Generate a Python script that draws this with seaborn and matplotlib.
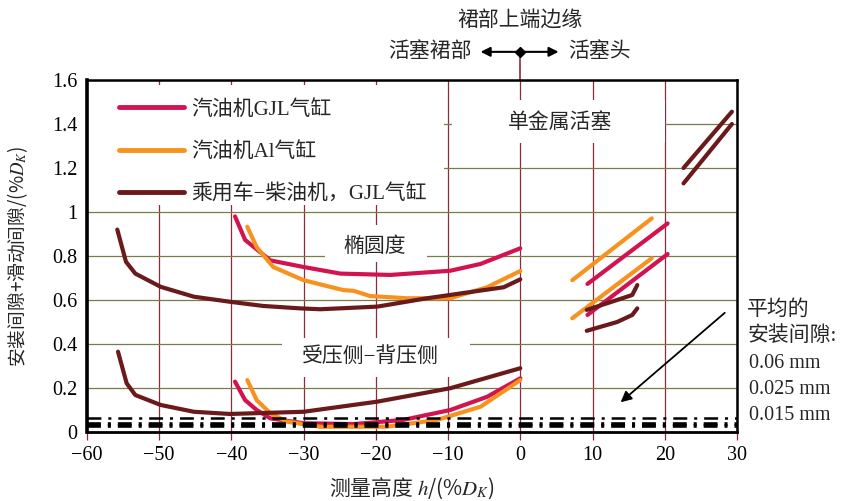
import matplotlib
matplotlib.use("Agg")
import matplotlib.pyplot as plt
from matplotlib.patches import Rectangle
import numpy as np
import pandas as pd
import seaborn as sns

sns.set_theme(style="white")
plt.rcParams["font.family"] = ["Liberation Serif", "Noto Sans CJK SC", "DejaVu Sans"]
plt.rcParams["mathtext.fontset"] = "stix"
plt.rcParams["axes.unicode_minus"] = True
plt.rcParams["lines.scale_dashes"] = False

# ---- data: clearance (% of piston diameter) vs. measuring height ----
series_names = ["汽油机GJL气缸", "汽油机Al气缸", "乘用车−柴油机，GJL气缸"]
series_colors = ["#d2134f", "#f7921e", "#6b1a1c"]

# gasoline engine, GJL cylinder
gjl_oval_h = [-39.5, -38.1, -34.6, -30, -24.9, -18, -9.7, -5.5, 0]
gjl_oval_v = [0.98, 0.873, 0.78, 0.75, 0.72, 0.714, 0.733, 0.764, 0.835]
gjl_thrust_h = [-39.5, -38.1, -36.5, -34.6, -30, -23.1, -16.2, -9.7, -4.6, 0]
gjl_thrust_v = [0.229, 0.145, 0.10, 0.062, 0.04, 0.036, 0.055, 0.10, 0.16, 0.244]
gjl_head_oval_h = [9.3, 20.4]
gjl_head_oval_v = [0.673, 0.948]
gjl_head_thrust_h = [9.3, 20.4]
gjl_head_thrust_v = [0.532, 0.809]

# gasoline engine, Al cylinder
al_oval_h = [-37.8, -36.5, -34.2, -30, -24.5, -23.1, -20.8, -15.7, -9.7, -4.6, 0]
al_oval_v = [0.933, 0.84, 0.75, 0.69, 0.645, 0.642, 0.618, 0.608, 0.608, 0.658, 0.732]
al_thrust_h = [-37.8, -36.5, -34.6, -32.3, -27.7, -18.5, -11.5, -5.5, 0]
al_thrust_v = [0.236, 0.145, 0.085, 0.047, 0.024, 0.024, 0.055, 0.115, 0.236]
al_head_oval_h = [7.2, 18.2]
al_head_oval_v = [0.69, 0.971]
al_head_thrust_h = [7.2, 18.2]
al_head_thrust_v = [0.517, 0.79]

# passenger-car diesel, GJL cylinder
dsl_oval_h = [-55.8, -54.6, -53.3, -49.8, -45.2, -40.2, -35.6, -30.5, -27.7, -19.8, -12.9, -2.3, 0]
dsl_oval_v = [0.92, 0.774, 0.72, 0.66, 0.615, 0.592, 0.573, 0.562, 0.558, 0.57, 0.608, 0.658, 0.694]
dsl_thrust_h = [-55.7, -54.5, -53.3, -49.8, -45.2, -40.2, -30, -19.8, -9.7, 0]
dsl_thrust_v = [0.365, 0.221, 0.168, 0.123, 0.092, 0.082, 0.092, 0.138, 0.199, 0.29]
dsl_head_oval_h = [9.2, 13.4, 15.5, 16.2]
dsl_head_oval_v = [0.555, 0.6, 0.623, 0.668]
dsl_head_thrust_h = [9.2, 13.4, 15.5, 16.2]
dsl_head_thrust_v = [0.46, 0.5, 0.532, 0.562]
dsl_top_a_h = [22.6, 29.3]
dsl_top_a_v = [1.2, 1.456]
dsl_top_b_h = [22.6, 29.3]
dsl_top_b_v = [1.13, 1.4]

# mean installation clearance reference levels
install_levels = [0.064, 0.036, 0.028]
install_widths = [1.8, 2.6, 2.6]
install_labels = ["0.06 mm", "0.025 mm", "0.015 mm"]

x_ticks = [-60, -50, -40, -30, -20, -10, 0, 10, 20, 30]
y_ticks = [0, 0.2, 0.4, 0.6, 0.8, 1.0, 1.2, 1.4, 1.6]
y_tick_labels = ["0", "0.2", "0.4", "0.6", "0.8", "1", "1.2", "1.4", "1.6"]

segments = [
    (series_names[0], gjl_oval_h, gjl_oval_v),
    (series_names[0], gjl_thrust_h, gjl_thrust_v),
    (series_names[0], gjl_head_oval_h, gjl_head_oval_v),
    (series_names[0], gjl_head_thrust_h, gjl_head_thrust_v),
    (series_names[1], al_oval_h, al_oval_v),
    (series_names[1], al_thrust_h, al_thrust_v),
    (series_names[1], al_head_oval_h, al_head_oval_v),
    (series_names[1], al_head_thrust_h, al_head_thrust_v),
    (series_names[2], dsl_oval_h, dsl_oval_v),
    (series_names[2], dsl_thrust_h, dsl_thrust_v),
    (series_names[2], dsl_head_oval_h, dsl_head_oval_v),
    (series_names[2], dsl_head_thrust_h, dsl_head_thrust_v),
    (series_names[2], dsl_top_a_h, dsl_top_a_v),
    (series_names[2], dsl_top_b_h, dsl_top_b_v),
]
rows = []
for seg_id, (name, hs, vs) in enumerate(segments):
    for h, v in zip(hs, vs):
        rows.append({"h": h, "clearance": v, "series": name, "segment": seg_id})
df = pd.DataFrame(rows)

# ---- figure ----
fig = plt.figure(figsize=(8.41, 5.01), dpi=100)
ax = fig.add_axes([0.1034, 0.1377, 0.7729, 0.7026])

grid_red = "#8e2a3a"
grid_olive = "#7b7b4a"
cjk = "Noto Sans CJK SC"

sns.lineplot(
    data=df, x="h", y="clearance", hue="series", units="segment",
    estimator=None, sort=False, hue_order=series_names,
    palette=dict(zip(series_names, series_colors)),
    linewidth=3.0, solid_capstyle="round", ax=ax, zorder=2,
)

ax.set_xlim(-60, 30)
ax.set_ylim(0, 1.6)
ax.set_xticks(x_ticks)
ax.set_yticks(y_ticks)
ax.set_yticklabels(y_tick_labels)
ax.set_axisbelow(True)
ax.grid(axis="x", color=grid_red, lw=0.9)
ax.grid(axis="y", color=grid_olive, lw=0.9)

ax.tick_params(axis="x", direction="out", length=6, width=0.9, color=grid_red,
               labelsize=14.5, pad=4, labelcolor="black", bottom=True)
ax.tick_params(axis="y", length=0, labelsize=14.5, pad=7, labelcolor="black")

for side, lw in [("left", 2.6), ("bottom", 2.0), ("top", 1.8), ("right", 1.8)]:
    ax.spines[side].set_visible(True)
    ax.spines[side].set_color("black")
    ax.spines[side].set_linewidth(lw)

# reference levels for mean installation clearance
for lvl, lw in zip(install_levels, install_widths):
    ax.axhline(lvl, color="black", lw=lw, dashes=(10, 5, 2.2, 5), zorder=3)

# white panels that keep the grid clear behind the legend and the annotations
ax.add_patch(Rectangle((0, 0.645), 0.549, 0.34, transform=ax.transAxes,
                       facecolor="white", edgecolor="none", zorder=1))
for (x0, y0, w, h) in [(-9.4, 1.314, 29.4, 0.195),   # 单金属活塞
                       (-27.0, 0.775, 14.1, 0.165),  # 椭圆度
                       (-33.0, 0.25, 26.0, 0.177)]:  # 受压侧−背压侧
    ax.add_patch(Rectangle((x0, y0), w, h, facecolor="white", edgecolor="none", zorder=1))

leg = ax.get_legend()
handles = leg.legend_handles
labels = [t.get_text() for t in leg.get_texts()]
leg.remove()
for hd, c in zip(handles, series_colors):
    hd.set_linewidth(3.5)
    hd.set_color(c)
ax.legend(handles, labels, loc="upper left", bbox_to_anchor=(0.04, 0.962),
          frameon=False, fontsize=15, handlelength=3.1, handletextpad=0.35,
          labelspacing=1.08, borderaxespad=0, borderpad=0.3)

ax.text(-20.1, 0.842, "椭圆度", ha="center", va="center", fontsize=15, zorder=1.5)
ax.text(-20.8, 0.342, "受压侧−背压侧", ha="center", va="center", fontsize=15, zorder=1.5)
ax.text(5.5, 1.406, "单金属活塞", ha="center", va="center", fontsize=15, zorder=1.5)

ax.annotate("", xy=(13.6, 0.127), xytext=(28.6, 0.55),
            arrowprops=dict(arrowstyle="-|>", color="black", lw=1.3, mutation_scale=16),
            zorder=4)

ax.set_xlabel("测量高度 $h$/(%$D_K$)", fontsize=15, labelpad=8, family=cjk)
ax.set_ylabel("安装间隙+滑动间隙/(%$D_K$)", fontsize=13.5, labelpad=16, family=cjk)

# skirt / head marker above the plot
tr = ax.get_xaxis_transform()
ax.text(0, 1.17, "裙部上端边缘", transform=tr, ha="center", va="center", fontsize=15)
ax.text(-6.7, 1.080, "活塞裙部", transform=tr, ha="right", va="center", fontsize=15)
ax.text(6.6, 1.080, "活塞头", transform=tr, ha="left", va="center", fontsize=15)
for x_end in (-5.5, 5.3):
    ax.annotate("", xy=(x_end, 1.080), xytext=(0, 1.080), xycoords=tr, textcoords=tr,
                arrowprops=dict(arrowstyle="-|>", color="black", lw=1.5, mutation_scale=14,
                                shrinkA=0, shrinkB=0), annotation_clip=False)
ax.plot([0, 0], [1.0, 1.080], transform=tr, color=grid_red, lw=1.2, clip_on=False)
ax.plot([0], [1.080], transform=tr, marker="D", ms=5, color="black", clip_on=False)

# mean installation clearance note
note_x = 749 / 841
fig.text(note_x - 0.002, 1 - 310 / 501, "平均的", fontsize=15, va="center", ha="left")
fig.text(note_x - 0.002, 1 - 336 / 501, "安装间隙:", fontsize=15, va="center", ha="left")
for lab, ypx in zip(install_labels, [364, 390, 416]):
    fig.text(note_x, 1 - ypx / 501, lab, fontsize=14.5, va="center", ha="left")

fig.savefig("out.png", dpi=100)
